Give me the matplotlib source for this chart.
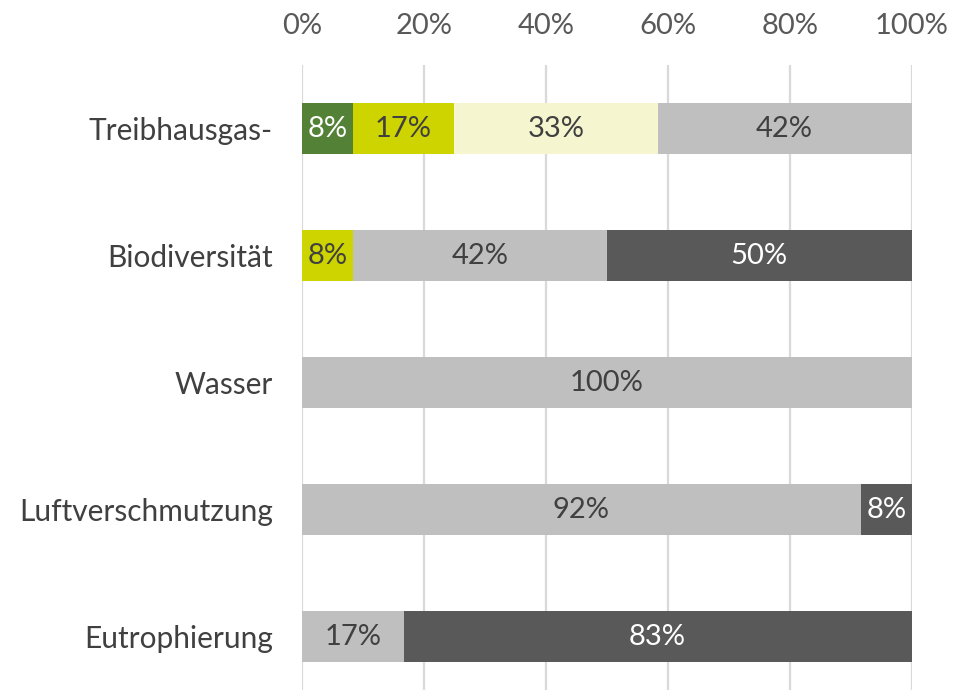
import matplotlib
matplotlib.use("Agg")
import matplotlib.pyplot as plt
import numpy as np

categories = ["Treibhausgas-", "Biodiversität", "Wasser", "Luftverschmutzung", "Eutrophierung"]
# shares (percent) per series, in stacking order
s_darkgreen = [8.33, 0, 0, 0, 0]
s_yellowgreen = [16.67, 8.33, 0, 0, 0]
s_paleyellow = [33.33, 0, 0, 0, 0]
s_lightgray = [41.67, 41.67, 100, 91.67, 16.67]
s_darkgray = [0, 50, 0, 8.33, 83.33]
xticks = [0, 20, 40, 60, 80, 100]

series = [s_darkgreen, s_yellowgreen, s_paleyellow, s_lightgray, s_darkgray]
colors = ["#538135", "#CDD400", "#F5F5CF", "#BFBFBF", "#595959"]
label_colors = ["white", "#404040", "#404040", "#404040", "white"]

plt.rcParams['font.family'] = ['Lato', 'DejaVu Sans']

fig = plt.figure(figsize=(9.74, 6.97), dpi=100)
ax = fig.add_axes([0.310, 0.01, 0.626, 0.8967])

y = np.arange(len(categories))
left = np.zeros(len(categories))
for vals, c, lc in zip(series, colors, label_colors):
    vals = np.array(vals, dtype=float)
    ax.barh(y, vals, left=left, height=0.4, color=c, zorder=3)
    for yi, (v, l) in enumerate(zip(vals, left)):
        if v > 0:
            ax.text(l + v / 2, yi, f"{round(v):d}%", ha="center", va="center",
                    fontsize=21, color=lc, zorder=4)
    left += vals

ax.set_xlim(0, 100)
ax.set_ylim(4.42, -0.5)
ax.set_yticks(y)
ax.set_yticklabels(categories, fontsize=21.5, color="#404040")
ax.set_xticks(xticks)
ax.set_xticklabels([f"{t}%" for t in xticks], fontsize=21, color="#595959")
ax.xaxis.tick_top()
ax.tick_params(axis="both", length=0)
ax.tick_params(axis="x", pad=19)
ax.tick_params(axis="y", pad=21)
ax.grid(axis="x", color="#D9D9D9", linewidth=1.6, zorder=0)
for sp in ax.spines.values():
    sp.set_visible(False)

fig.savefig("out.png", dpi=100)
